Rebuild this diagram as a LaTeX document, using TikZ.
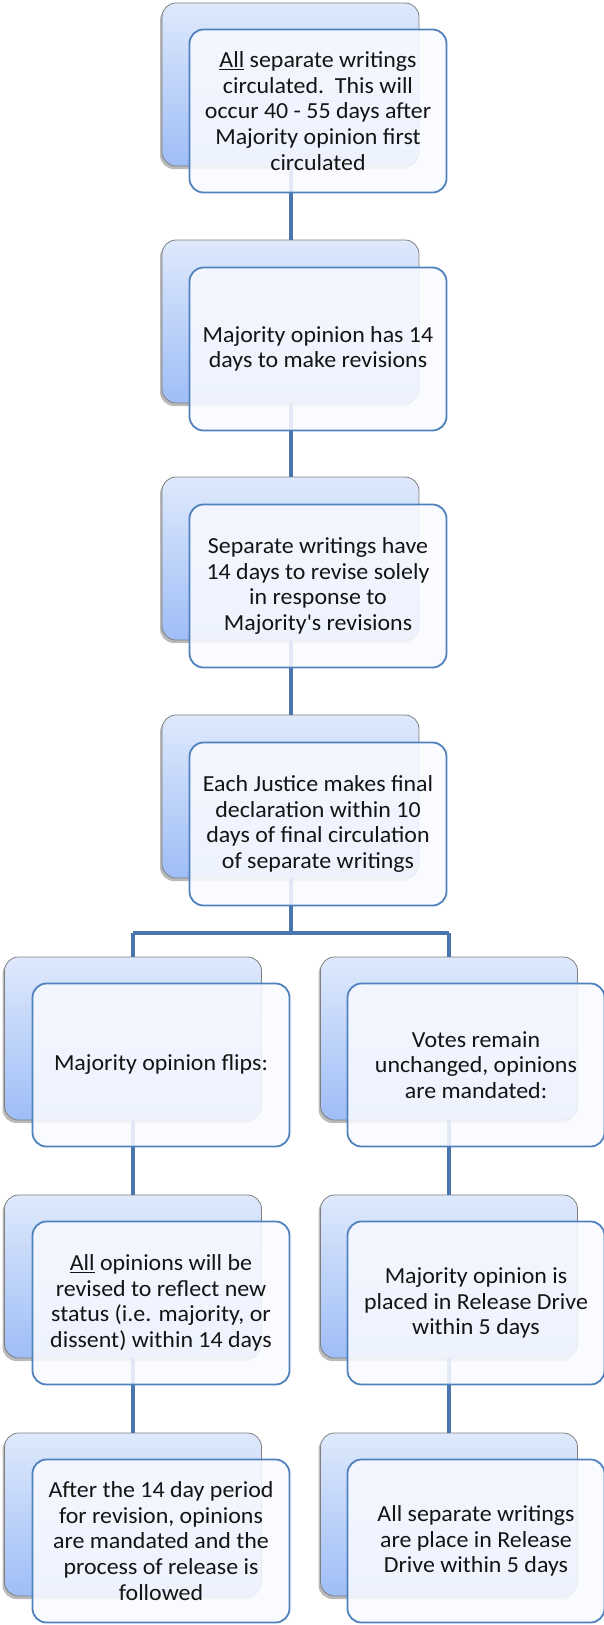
\documentclass[tikz,border=0pt]{standalone}
\usepackage{fontspec}
\setmainfont{Carlito}[FakeStretch=1.04]
\usetikzlibrary{shadows}
\definecolor{backtop}{HTML}{DEE9FC}
\definecolor{backbot}{HTML}{9FBDF6}
\definecolor{backborder}{HTML}{7F7F7F}
\definecolor{frontborder}{HTML}{4F81BD}
\definecolor{frontfill}{HTML}{F8FAFF}
\definecolor{linkcol}{HTML}{4A76B0}
\tikzset{
  backbox/.style={rounded corners=14pt, minimum width=257pt, minimum height=163pt, inner sep=0pt,
    draw=backborder, line width=0.8pt, top color=backtop, bottom color=backbot,
    drop shadow={shadow xshift=-2pt, shadow yshift=-3pt, opacity=0.45, fill=black!60}},
  frontbox/.style={rounded corners=14pt, minimum width=257pt, minimum height=163pt, inner sep=0pt,
    draw=frontborder, line width=1.8pt, fill=frontfill, fill opacity=0.88, text opacity=1,
    align=center, font=\fontsize{23pt}{25.6pt}\selectfont, text=black!92},
  link/.style={draw=linkcol, line width=4pt}
}
\begin{document}
\begin{tikzpicture}[x=1pt,y=-1pt]
\useasboundingbox (0,0) rectangle (604,1625);
% back boxes
\node[backbox] (b1) at (290.5,84.5) {};
\node[backbox] (b2) at (290.5,321.5) {};
\node[backbox] (b3) at (290.5,558.5) {};
\node[backbox] (b4) at (290.5,796.5) {};
\node[backbox] (l5) at (133,1038.5) {};
\node[backbox] (l6) at (133,1276.5) {};
\node[backbox] (l7) at (133,1514.5) {};
\node[backbox] (r5) at (449,1038.5) {};
\node[backbox] (r6) at (449,1276.5) {};
\node[backbox] (r7) at (449,1514.5) {};
% connectors
\coordinate (split) at (290.5,933);
\coordinate (splitL) at (133,933);
\coordinate (splitR) at (449,933);
\draw[link] (b1.south) -- (b2.north);
\draw[link] (b2.south) -- (b3.north);
\draw[link] (b3.south) -- (b4.north);
\draw[link] (b4.south) -- (split);
\draw[link] (splitL) -- (splitR);
\draw[link] (splitL) -- (l5.north);
\draw[link] (splitR) -- (r5.north);
\draw[link] (l5.south) -- (l6.north);
\draw[link] (l6.south) -- (l7.north);
\draw[link] (r5.south) -- (r6.north);
\draw[link] (r6.south) -- (r7.north);
% front boxes
\node[frontbox] (f1) at (318,111) {\underline{All} separate writings\\circulated.\ \ This will\\occur 40 - 55 days after\\Majority opinion first\\circulated};
\node[frontbox] (f2) at (318,349) {Majority opinion has 14\\days to make revisions};
\node[frontbox] (f3) at (318,586) {Separate writings have\\14 days to revise solely\\in response to\\Majority\textquotesingle s revisions};
\node[frontbox] (f4) at (318,824) {Each Justice makes final\\declaration within 10\\days of final circulation\\of separate writings};
\node[frontbox] (fl5) at (161,1065) {Majority opinion flips:};
\node[frontbox] (fl6) at (161,1303) {\underline{All} opinions will be\\revised to reflect new\\status (i.e. majority, or\\dissent) within 14 days};
\node[frontbox] (fl7) at (161,1541) {After the 14 day period\\for revision, opinions\\are mandated and the\\process of release is\\followed};
\node[frontbox] (fr5) at (476,1065) {Votes remain\\unchanged, opinions\\are mandated:};
\node[frontbox] (fr6) at (476,1303) {Majority opinion is\\placed in Release Drive\\within 5 days};
\node[frontbox] (fr7) at (476,1541) {All separate writings\\are place in Release\\Drive within 5 days};
\end{tikzpicture}
\end{document}
